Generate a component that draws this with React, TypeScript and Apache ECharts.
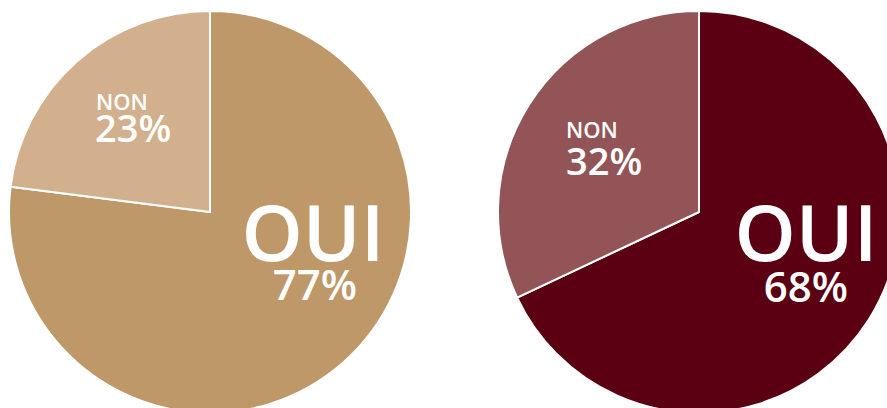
import React, { useEffect, useRef } from "react";
import * as echarts from "echarts";

const categories = ["OUI", "NON"];
const leftValues = [77, 23];
const rightValues = [68, 32];
const leftColors = ["#BF986A", "#D2B08D"];
const rightColors = ["#5A0012", "#925456"];

const FONT = "'Open Sans', 'DejaVu Sans', sans-serif";

export default function App() {
  const ref = useRef<HTMLDivElement>(null);
  useEffect(() => {
    document.body.style.margin = "0";
    const chart = echarts.init(ref.current!, null, { renderer: "svg" });
    const mkData = (vals: number[], cols: string[]) =>
      vals.map((v, i) => ({ name: categories[i], value: v, itemStyle: { color: cols[i] } }));
    const txt = (x: number, y: number, text: string, size: number, lh: number, align: string) => ({
      type: "text",
      x,
      y,
      z: 100,
      silent: true,
      style: {
        text,
        fill: "#ffffff",
        fontFamily: FONT,
        fontSize: size,
        fontWeight: 600,
        lineHeight: lh,
        textAlign: align,
        textVerticalAlign: "middle",
      },
    });
    chart.setOption({
      animation: false,
      series: [
        {
          type: "pie",
          center: [210, 212],
          radius: 201,
          startAngle: 90,
          clockwise: true,
          label: { show: false },
          labelLine: { show: false },
          emphasis: { disabled: true },
          itemStyle: { borderColor: "#ffffff", borderWidth: 2 },
          data: mkData(leftValues, leftColors),
        },
        {
          type: "pie",
          center: [699, 212],
          radius: 201,
          startAngle: 90,
          clockwise: true,
          label: { show: false },
          labelLine: { show: false },
          emphasis: { disabled: true },
          itemStyle: { borderColor: "#ffffff", borderWidth: 2 },
          data: mkData(rightValues, rightColors),
        },
      ],
      graphic: [
        txt(313, 231, categories[0], 78, 60, "center"),
        txt(315, 283, `${leftValues[0]}%`, 42, 32, "center"),
        txt(96, 101, categories[1], 22, 17, "left"),
        txt(95, 127, `${leftValues[1]}%`, 38, 30, "left"),
        txt(806, 231, categories[0], 78, 60, "center"),
        txt(806, 285, `${rightValues[0]}%`, 42, 32, "center"),
        txt(566, 129, categories[1], 22, 17, "left"),
        txt(566, 160, `${rightValues[1]}%`, 38, 30, "left"),
      ],
    });
    return () => chart.dispose();
  }, []);
  return <div ref={ref} style={{ width: 887, height: 408 }} />;
}
